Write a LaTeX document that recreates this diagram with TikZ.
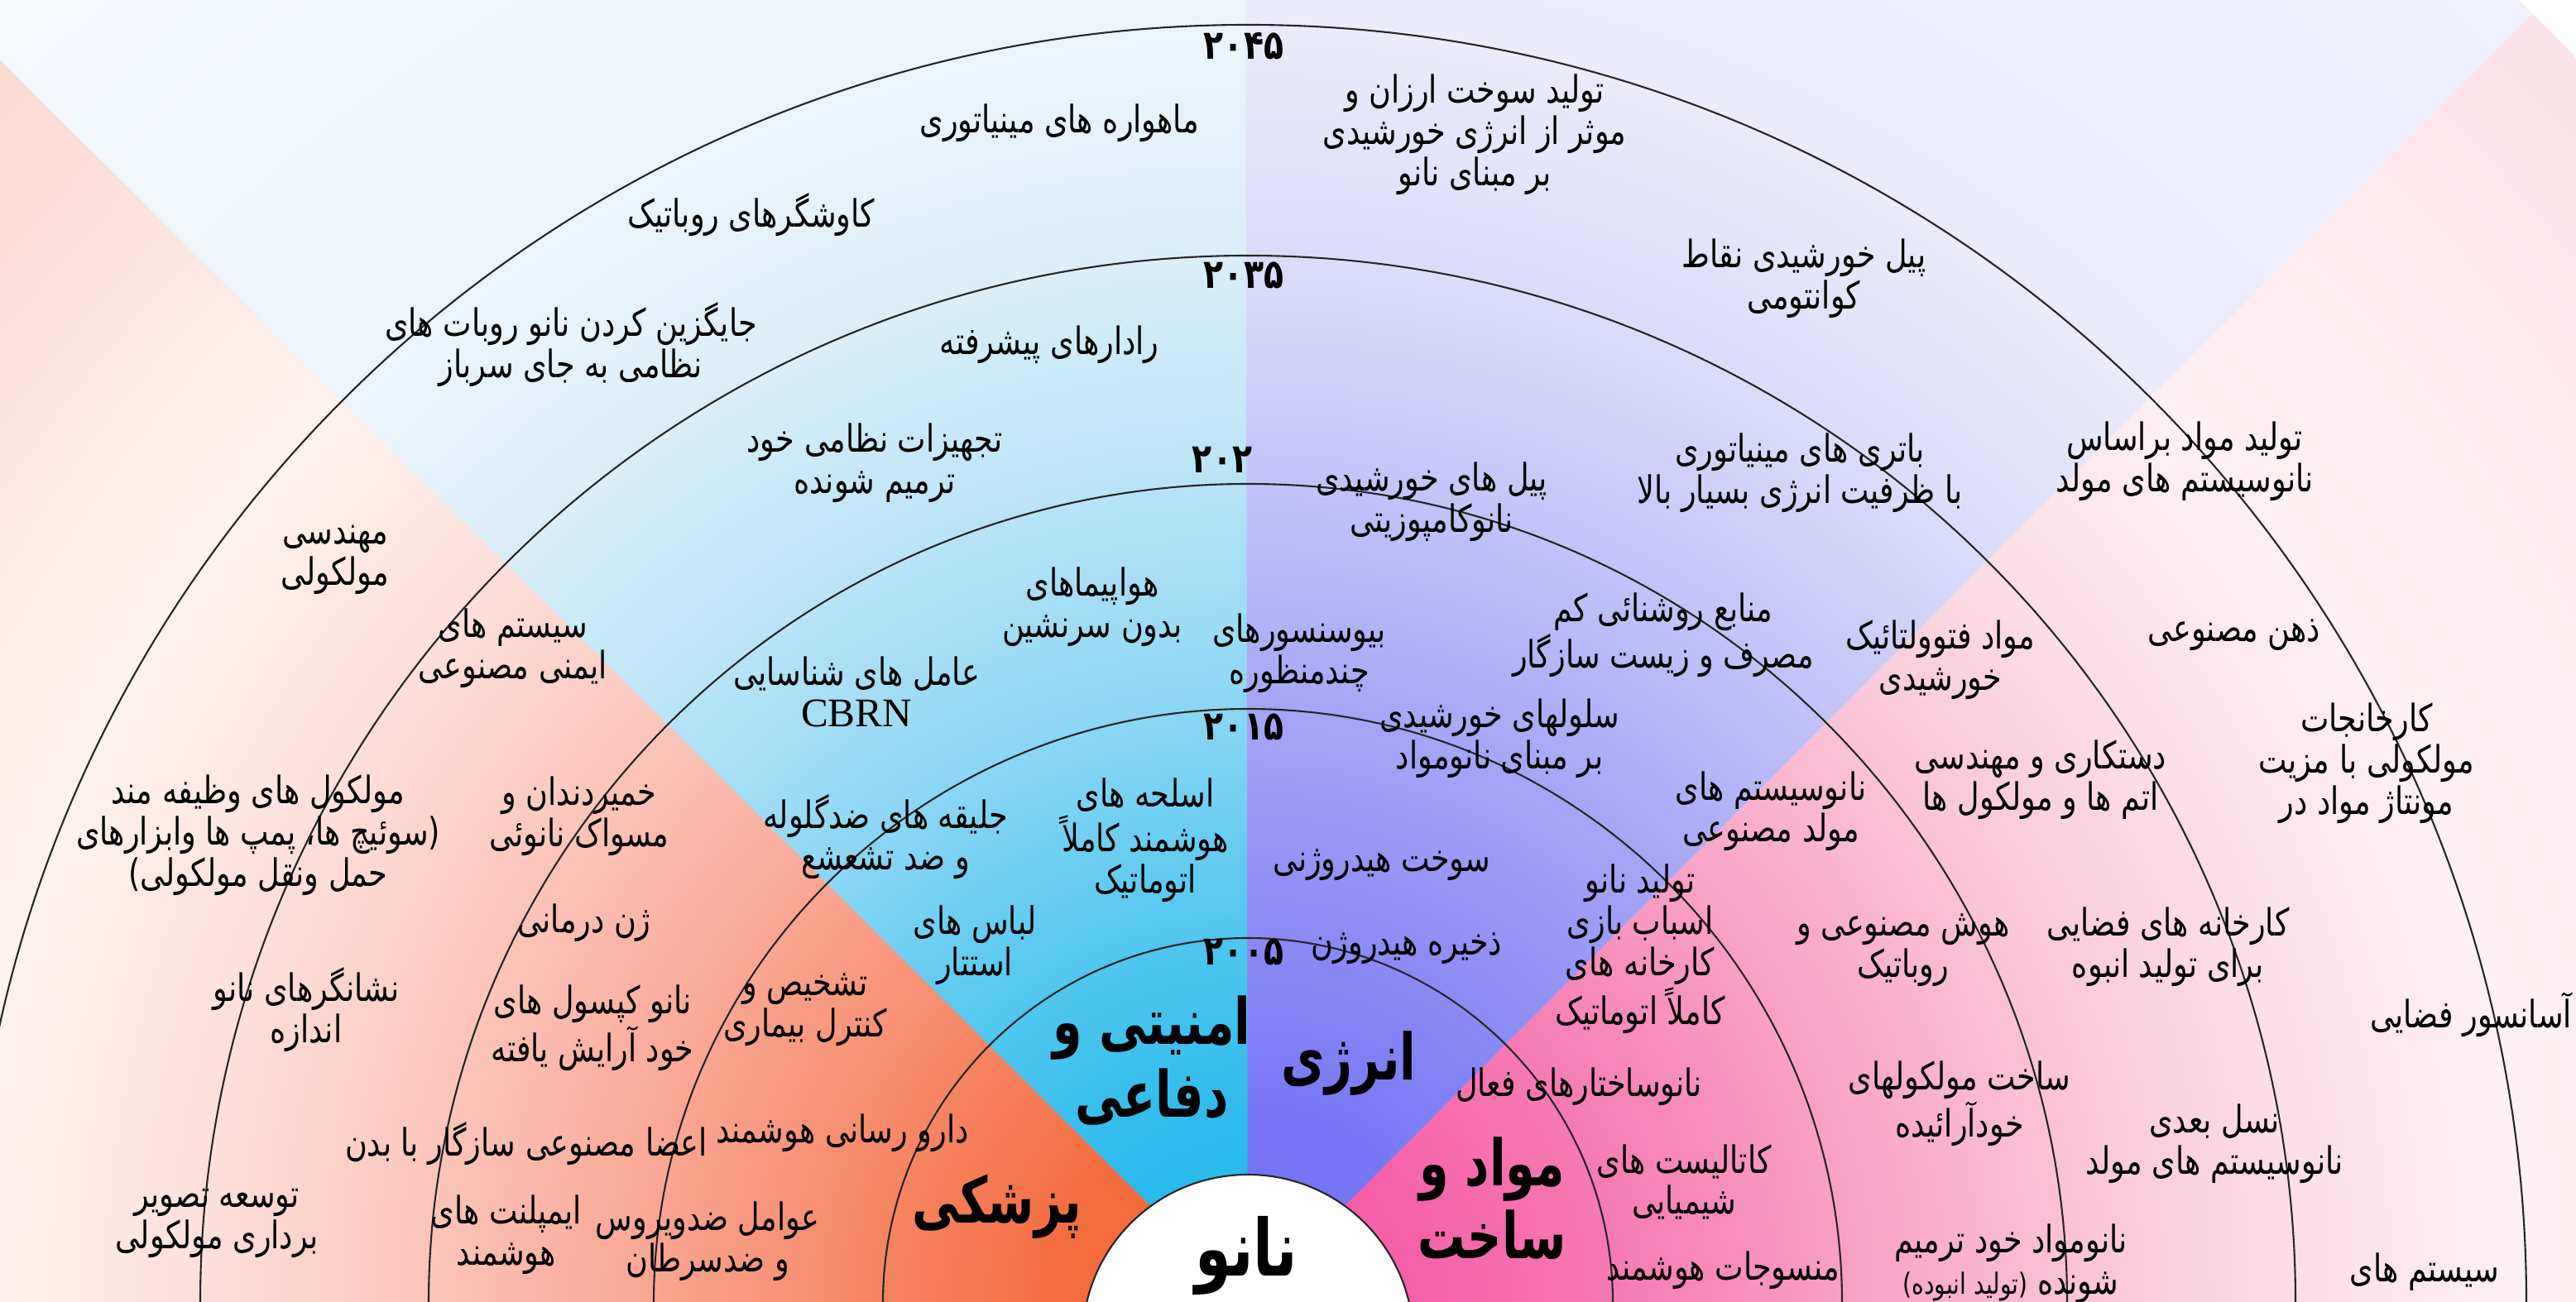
\documentclass[tikz,border=0pt]{standalone}
\usepackage{fontspec}
\setmainfont{Liberation Serif}
\newfontfamily\farsi[Script=Arabic,FakeStretch=0.8]{DejaVu Sans}
\newfontfamily\farsihead[Script=Arabic,FakeStretch=0.74]{DejaVu Sans}
\TeXXeTstate=1
\newcommand{\fa}[1]{\beginR#1\endR}

% sector colours, centre to rim
\definecolor{medA}{RGB}{243,100,50}  \definecolor{medB}{RGB}{244,108,62}
\definecolor{medC}{RGB}{246,132,98}  \definecolor{medD}{RGB}{249,166,146}
\definecolor{medE}{RGB}{251,198,188} \definecolor{medF}{RGB}{253,224,218}
\definecolor{medG}{RGB}{254,242,239} \definecolor{medH}{RGB}{251,214,204}
\definecolor{defA}{RGB}{35,182,235}  \definecolor{defB}{RGB}{45,187,236}
\definecolor{defC}{RGB}{80,198,238}  \definecolor{defD}{RGB}{140,214,243}
\definecolor{defE}{RGB}{186,228,246} \definecolor{defF}{RGB}{218,238,249}
\definecolor{defG}{RGB}{237,245,251} \definecolor{defH}{RGB}{246,249,252}
\definecolor{enA}{RGB}{112,112,245}  \definecolor{enB}{RGB}{118,118,245}
\definecolor{enC}{RGB}{138,138,245}  \definecolor{enD}{RGB}{166,166,246}
\definecolor{enE}{RGB}{196,196,248}  \definecolor{enF}{RGB}{220,220,250}
\definecolor{enG}{RGB}{235,235,251}  \definecolor{enH}{RGB}{240,240,252}
\definecolor{matA}{RGB}{244,88,165}  \definecolor{matB}{RGB}{245,98,170}
\definecolor{matC}{RGB}{246,122,180} \definecolor{matD}{RGB}{248,160,196}
\definecolor{matE}{RGB}{250,196,215} \definecolor{matF}{RGB}{252,222,231}
\definecolor{matG}{RGB}{254,240,244} \definecolor{matH}{RGB}{252,226,233}

\newcommand{\sectorshade}[2]{%
  \pgfdeclareradialshading{#1}{\pgfpointorigin}{%
    color(0bp)=(#2A); color(2.5bp)=(#2B); color(5bp)=(#2C); color(8.2bp)=(#2D);
    color(11.4bp)=(#2E); color(14.4bp)=(#2F); color(17.6bp)=(#2G);
    color(25bp)=(#2H); color(50bp)=(#2H)}}
\sectorshade{medshade}{med}
\sectorshade{defshade}{def}
\sectorshade{enshade}{en}
\sectorshade{matshade}{mat}

\tikzset{
  item/.style={font=\farsi\fontsize{13}{14.2}\selectfont, align=center, inner sep=0pt},
  field/.style={font=\farsihead\bfseries\fontsize{22}{25}\selectfont, align=center, inner sep=0pt},
  year/.style={font=\farsi\bfseries\fontsize{14}{15}\selectfont, inner sep=0pt},
  ring/.style={line width=0.6pt, draw=black!85},
  hub/.style={circle, draw=black!85, line width=0.6pt, fill=white, minimum size=4cm, inner sep=0pt}
}

\begin{document}
\begin{tikzpicture}
  \useasboundingbox (0,0) rectangle (31.13,15.73);
  \clip (0,0) rectangle (31.13,15.73);
  \coordinate (O) at (15.08,-0.02);

  % four sectors
  \foreach \a/\b/\s in {134.9/182/medshade, 89.9/135.1/defshade, 44.9/90.1/enshade, -2/45.1/matshade}{
    \begin{scope}
      \clip (O) -- ++(\a:30) arc[start angle=\a, end angle=\b, radius=30] -- cycle;
      \shade[shading=\s] (O) circle (22);
    \end{scope}
  }

  % year rings
  \foreach \r in {4.41,7.18,9.90,12.66,15.45}
    \draw[ring] (O) ++(\r,0) arc[start angle=0, end angle=180, radius=\r];

  \node[hub] (hub) at (15.08,-0.47) {};

  % years
  \node[year] (y45) at (15.03,15.17) {۲۰۴۵};
  \node[year] (y35) at (15.03,12.40) {۲۰۳۵};
  \node[year] (y25) at (14.77,10.17) {۲۰۲};
  \node[year] (y15) at (15.03,6.94) {۲۰۱۵};
  \node[year] (y05) at (15.03,4.22) {۲۰۰۵};

  % fields
  \node[field] (defence) at (13.92,2.91) {\fa{امنیتی و}\\\fa{دفاعی}};
  \node[field] (energy) at (16.30,2.87) {\fa{انرژی}};
  \node[field] (medicine) at (12.05,1.14) {\fa{پزشکی}};
  \node[field] (material) at (18.03,1.24) {\fa{مواد و}\\\fa{ساخت}};
  \node[field, font=\farsihead\bfseries\fontsize{27}{30}\selectfont] (nano) at (15.06,0.55) {\fa{نانو}};

  % 2045
  \node[item] (sat) at (12.80,14.24) {\fa{ماهواره های مینیاتوری}};
  \node[item] (solarfuel) at (17.82,14.10) {\fa{تولید سوخت ارزان و}\\\fa{موثر از انرژی خورشیدی}\\\fa{بر مبنای نانو}};
  \node[item] (probe) at (9.08,13.13) {\fa{کاوشگرهای روباتیک}};
  \node[item] (qdot) at (21.80,12.36) {\fa{پیل خورشیدی نقاط}\\\fa{کوانتومی}};
  \node[item] (moleng) at (4.05,8.96) {\fa{مهندسی}\\\fa{مولکولی}};
  \node[item] (matgen) at (26.40,10.15) {\fa{تولید مواد براساس}\\\fa{نانوسیستم های مولد}};
  \node[item] (mind) at (27.00,8.05) {\fa{ذهن مصنوعی}};
  \node[item] (molfac) at (28.60,6.50) {\fa{کارخانجات}\\\fa{مولکولی با مزیت}\\\fa{مونتاژ مواد در}};
  \node[item] (molfunc) at (3.12,5.63) {\fa{مولکول های وظیفه مند}\\\fa{(سوئیچ ها، پمپ ها وابزارهای}\\\fa{حمل ونقل مولکولی)}};
  \node[item] (marker) at (3.70,3.52) {\fa{نشانگرهای نانو}\\\fa{اندازه}};
  \node[item] (imaging) at (2.62,0.94) {\fa{توسعه تصویر}\\\fa{برداری مولکولی}};
  \node[item] (elevator) at (29.86,3.46) {\fa{آسانسور فضایی}};
  \node[item] (systems) at (29.30,0.35) {\fa{سیستم های}};

  % 2035
  \node[item] (replace) at (6.90,11.56) {\fa{جایگزین کردن نانو روبات های}\\\fa{نظامی به جای سرباز}};
  \node[item] (radar) at (12.68,11.56) {\fa{رادارهای پیشرفته}};
  \node[item] (battery) at (21.75,10.01) {\fa{باتری های مینیاتوری}\\\fa{با ظرفیت انرژی بسیار بالا}};
  \node[item] (immune) at (6.20,7.89) {\fa{سیستم های}\\\fa{ایمنی مصنوعی}};
  \node[item] (pv) at (23.45,7.75) {\fa{مواد فتوولتائیک}\\\fa{خورشیدی}};
  \node[item] (atoms) at (24.66,6.30) {\fa{دستکاری و مهندسی}\\\fa{اتم ها و مولکول ها}};
  \node[item] (paste) at (7.00,5.86) {\fa{خمیردندان و}\\\fa{مسواک نانوئی}};
  \node[item] (gene) at (7.06,4.57) {\fa{ژن درمانی}};
  \node[item] (spacefac) at (26.20,4.28) {\fa{کارخانه های فضایی}\\\fa{برای تولید انبوه}};
  \node[item] (capsule) at (7.16,3.30) {\fa{نانو کپسول های}\\\fa{خود آرایش یافته}};
  \node[item] (nextgen) at (26.76,1.90) {\fa{نسل بعدی}\\\fa{نانوسیستم های مولد}};
  \node[item] (organ) at (6.36,1.90) {\fa{اعضا مصنوعی سازگار با بدن}};
  \node[item] (implant) at (6.12,0.80) {\fa{ایمپلنت های}\\\fa{هوشمند}};
  \node[item] (selfmat) at (24.30,0.45) {\fa{نانومواد خود ترمیم}\\\fa{شونده {\fontsize{10}{11}\selectfont(تولید انبوده)}}};

  % 2025
  \node[item] (selfheal) at (10.57,10.13) {\fa{تجهیزات نظامی خود}\\\fa{ترمیم شونده}};
  \node[item] (nanocomp) at (17.30,9.66) {\fa{پیل های خورشیدی}\\\fa{نانوکامپوزیتی}};
  \node[item] (uav) at (13.20,8.39) {\fa{هواپیماهای}\\\fa{بدون سرنشین}};
  \node[item] (light) at (20.10,8.05) {\fa{منابع روشنائی کم}\\\fa{مصرف و زیست سازگار}};
  \node[item] (cbrn) at (10.35,7.37) {\fa{عامل های شناسایی}\\{\rmfamily\fontsize{14}{16}\selectfont CBRN}};
  \node[item] (biosens) at (15.70,7.83) {\fa{بیوسنسورهای}\\\fa{چندمنظوره}};
  \node[item] (cells) at (18.12,6.80) {\fa{سلولهای خورشیدی}\\\fa{بر مبنای نانومواد}};
  \node[item] (gensys) at (21.40,5.92) {\fa{نانوسیستم های}\\\fa{مولد مصنوعی}};
  \node[item] (ai) at (23.00,4.24) {\fa{هوش مصنوعی و}\\\fa{روباتیک}};
  \node[item] (diag) at (9.73,3.52) {\fa{تشخیص و}\\\fa{کنترل بیماری}};
  \node[item] (selfasm) at (23.68,2.39) {\fa{ساخت مولکولهای}\\\fa{خودآرائیده}};
  \node[item] (antivir) at (8.55,0.72) {\fa{عوامل ضدویروس}\\\fa{و ضدسرطان}};

  % 2015
  \node[item] (vest) at (10.70,5.61) {\fa{جلیقه های ضدگلوله}\\\fa{و ضد تشعشع}};
  \node[item] (weapon) at (13.84,5.57) {\fa{اسلحه های}\\\fa{هوشمند کاملاً}\\\fa{اتوماتیک}};
  \node[item] (hydfuel) at (16.70,5.27) {\fa{سوخت هیدروژنی}};
  \node[item] (toys) at (19.82,4.26) {\fa{تولید نانو}\\\fa{اسباب بازی}\\\fa{کارخانه های}\\\fa{کاملاً اتوماتیک}};
  \node[item] (camo) at (11.78,4.30) {\fa{لباس های}\\\fa{استتار}};
  \node[item] (hydstore) at (17.00,4.26) {\fa{ذخیره هیدروژن}};
  \node[item] (activ) at (19.08,2.59) {\fa{نانوساختارهای فعال}};
  \node[item] (drug) at (10.18,2.03) {\fa{دارو رسانی هوشمند}};
  \node[item] (catal) at (20.35,1.44) {\fa{کاتالیست های}\\\fa{شیمیایی}};
  \node[item] (textile) at (20.82,0.37) {\fa{منسوجات هوشمند}};
\end{tikzpicture}
\end{document}
